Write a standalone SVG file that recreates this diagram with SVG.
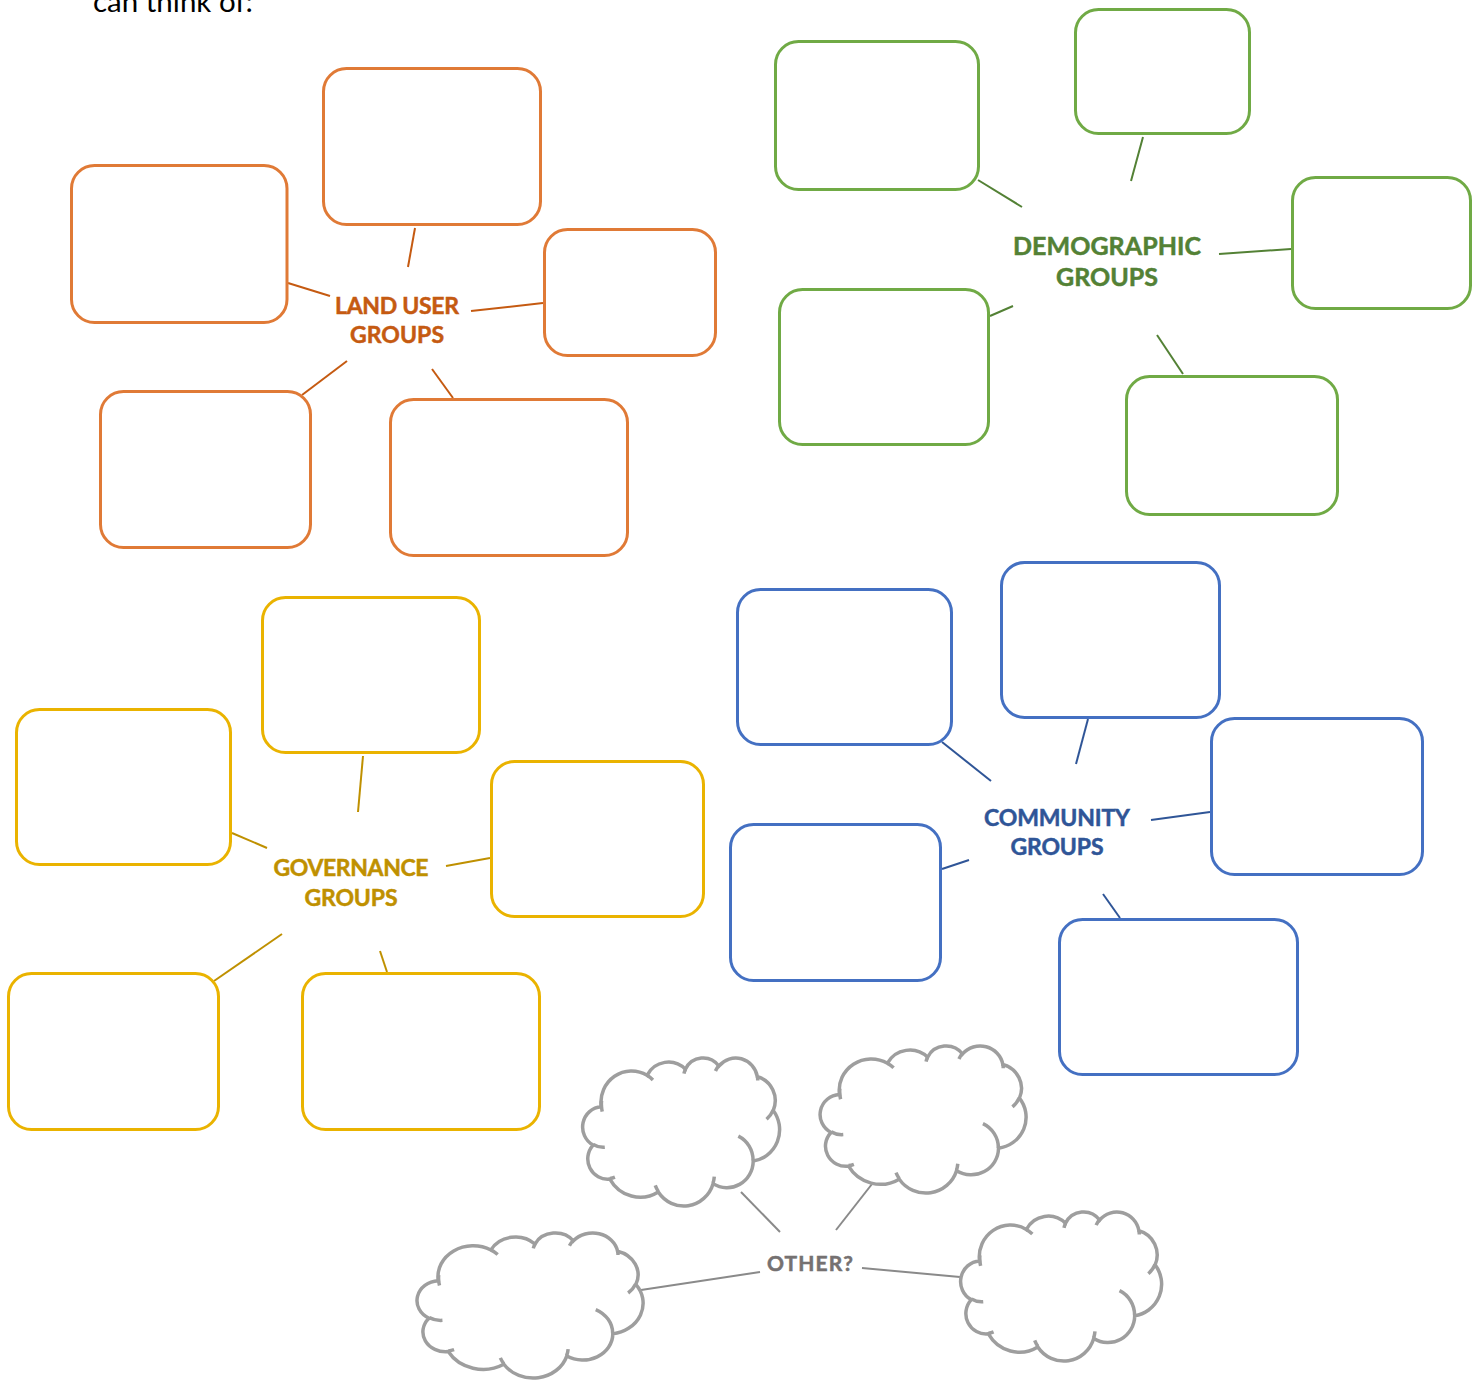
<svg xmlns="http://www.w3.org/2000/svg" xmlns:xlink="http://www.w3.org/1999/xlink" width="1484" height="1380" viewBox="0 0 1484 1380">
  <style>
    .box { fill: #ffffff; stroke-width: 3; }
    .orange { stroke: #E07A36; }
    .green { stroke: #70AA45; }
    .yellow { stroke: #EAB300; }
    .blue { stroke: #4470C2; }
    .lbl { font-family: Lato, "Open Sans", "Liberation Sans", sans-serif; font-weight: 700; font-size: 23px; text-anchor: middle; stroke-width: 0.5px; }
    .t-orange { fill: #C55A11; stroke: #C55A11; }
    .t-green { fill: #538135; stroke: #538135; font-size: 25px; }
    .t-yellow { fill: #BF9000; stroke: #BF9000; }
    .t-blue { fill: #2F5597; stroke: #2F5597; }
    .t-gray { fill: #757171; stroke: #757171; font-size: 21px; }
    .c-orange { stroke: #C55A11; }
    .c-green { stroke: #538135; }
    .c-yellow { stroke: #BF9000; }
    .c-blue { stroke: #2F5597; }
    .c-gray { stroke: #8A8A8A; }
    #connectors line { stroke-width: 2; fill: none; }
    .cloud-outline { fill: #ffffff; stroke: #9E9E9E; stroke-width: 3.5; vector-effect: non-scaling-stroke; }
    .cloud-inner { fill: none; stroke: #9E9E9E; stroke-width: 3.5; vector-effect: non-scaling-stroke; }
  </style>
  <defs>
    <!-- cloud outline on a 43200 x 43200 grid, scaled per instance -->
    <g id="cloud">
      <path class="cloud-outline" d="M3900,14370 A6753,9190 0 0 1 14005.6,5202.7 A5333,7267 0 0 1 22459.9,3435.4 A4365,5945 0 0 1 29837.1,2484 A4857,6595 0 0 1 38322,5579.8 A5333,7273 0 0 1 41822.5,15463.6 A6775,9220 0 0 1 37408.8,30207.1 A5785,7867 0 0 1 28560.3,36817.2 A6752,9215 0 0 1 16485.1,39270 A7720,10543 0 0 1 5809.3,35476.7 A4360,5918 0 0 1 2116.9,25556.6 A4345,5945 0 0 1 3900,14370 Z"/>
      <path class="cloud-inner" d="M4693,26177 A4345,5945 0 0 1 2159.9,25380.1 M6928,34899 A4360,5918 0 0 1 5819.5,35280.5 M16478,39090 A6752,9215 0 0 1 15809.9,37349.7 M28827,34751 A6752,9215 0 0 1 28560.5,36659.4 M34129,22954 A5785,7867 0 0 1 37380.4,30089.6 M41798,15354 A5333,7273 0 0 1 40349,18031.1 M38324,5426 A4857,6595 0 0 1 38400.4,6689.6 M29078,3952 A4857,6595 0 0 1 29820.2,2338.8 M22141,4720 A4365,5945 0 0 1 22500,3330.6 M14000,5192 A6753,9190 0 0 1 15302.6,6544.2 M4127,15789 A6753,9190 0 0 1 3982.4,12675.5"/>
    </g>
  </defs>

  <rect width="1484" height="1380" fill="#ffffff"/>

  <text x="93" y="12" font-family="Lato, 'Open Sans', 'Liberation Sans', sans-serif" font-size="28" textLength="160" lengthAdjust="spacingAndGlyphs" fill="#000000">can think of:</text>

  <!-- connectors -->
  <g id="connectors">
    <line class="c-orange" x1="288" y1="283" x2="330" y2="296"/>
    <line class="c-orange" x1="415" y1="228" x2="408" y2="267"/>
    <line class="c-orange" x1="543" y1="303" x2="471" y2="311"/>
    <line class="c-orange" x1="302" y1="395" x2="347" y2="361"/>
    <line class="c-orange" x1="432" y1="369" x2="453" y2="398"/>

    <line class="c-green" x1="978" y1="180" x2="1022" y2="207"/>
    <line class="c-green" x1="1143" y1="137" x2="1131" y2="181"/>
    <line class="c-green" x1="1291" y1="249" x2="1219" y2="254"/>
    <line class="c-green" x1="990" y1="316" x2="1013" y2="306"/>
    <line class="c-green" x1="1157" y1="335" x2="1183" y2="374"/>

    <line class="c-yellow" x1="363" y1="756" x2="358" y2="812"/>
    <line class="c-yellow" x1="232" y1="833" x2="267" y2="848"/>
    <line class="c-yellow" x1="490" y1="858" x2="446" y2="866"/>
    <line class="c-yellow" x1="214" y1="981" x2="282" y2="934"/>
    <line class="c-yellow" x1="380" y1="951" x2="387" y2="972"/>

    <line class="c-blue" x1="942" y1="742" x2="991" y2="781"/>
    <line class="c-blue" x1="1088" y1="719" x2="1076" y2="764"/>
    <line class="c-blue" x1="1210" y1="812" x2="1151" y2="820"/>
    <line class="c-blue" x1="942" y1="869" x2="969" y2="860"/>
    <line class="c-blue" x1="1103" y1="894" x2="1120" y2="918"/>

    <line class="c-gray" x1="741" y1="1192" x2="780" y2="1232"/>
    <line class="c-gray" x1="872" y1="1184" x2="836" y2="1230"/>
    <line class="c-gray" x1="641" y1="1290" x2="760" y2="1272"/>
    <line class="c-gray" x1="862" y1="1268" x2="960" y2="1277"/>
  </g>

  <!-- land user groups -->
  <g id="land-user">
    <text class="lbl t-orange" x="397" y="314" textLength="124">LAND USER</text>
    <text class="lbl t-orange" x="397" y="343" textLength="94">GROUPS</text>
  </g>
  <g id="land-user-1"><rect class="box orange" x="71.5" y="165.5" width="215.5" height="157" rx="23"/></g>
  <g id="land-user-2"><rect class="box orange" x="323.5" y="68.5" width="217" height="156" rx="23"/></g>
  <g id="land-user-3"><rect class="box orange" x="544.5" y="229.5" width="171" height="126" rx="23"/></g>
  <g id="land-user-4"><rect class="box orange" x="100.5" y="391.5" width="210" height="156" rx="23"/></g>
  <g id="land-user-5"><rect class="box orange" x="390.5" y="399.5" width="237" height="156" rx="23"/></g>

  <!-- demographic groups -->
  <g id="demographic">
    <text class="lbl t-green" x="1107" y="255" textLength="188">DEMOGRAPHIC</text>
    <text class="lbl t-green" x="1107" y="286" textLength="102">GROUPS</text>
  </g>
  <g id="demographic-1"><rect class="box green" x="775.5" y="41.5" width="203" height="148" rx="23"/></g>
  <g id="demographic-2"><rect class="box green" x="1075.5" y="9.5" width="174" height="124" rx="23"/></g>
  <g id="demographic-3"><rect class="box green" x="1292.5" y="177.5" width="178" height="131" rx="23"/></g>
  <g id="demographic-4"><rect class="box green" x="779.5" y="289.5" width="209" height="155" rx="23"/></g>
  <g id="demographic-5"><rect class="box green" x="1126.5" y="376.5" width="211" height="138" rx="23"/></g>

  <!-- governance groups -->
  <g id="governance">
    <text class="lbl t-yellow" x="351" y="876" textLength="155">GOVERNANCE</text>
    <text class="lbl t-yellow" x="351" y="906" textLength="93">GROUPS</text>
  </g>
  <g id="governance-1"><rect class="box yellow" x="262.5" y="597.5" width="217" height="155" rx="23"/></g>
  <g id="governance-2"><rect class="box yellow" x="16.5" y="709.5" width="214" height="155" rx="23"/></g>
  <g id="governance-3"><rect class="box yellow" x="491.5" y="761.5" width="212" height="155" rx="23"/></g>
  <g id="governance-4"><rect class="box yellow" x="8.5" y="973.5" width="210" height="156" rx="23"/></g>
  <g id="governance-5"><rect class="box yellow" x="302.5" y="973.5" width="237" height="156" rx="23"/></g>

  <!-- community groups -->
  <g id="community">
    <text class="lbl t-blue" x="1057" y="826" textLength="146">COMMUNITY</text>
    <text class="lbl t-blue" x="1057" y="855" textLength="93">GROUPS</text>
  </g>
  <g id="community-1"><rect class="box blue" x="737.5" y="589.5" width="214" height="155" rx="23"/></g>
  <g id="community-2"><rect class="box blue" x="1001.5" y="562.5" width="218" height="155" rx="23"/></g>
  <g id="community-3"><rect class="box blue" x="1211.5" y="718.5" width="211" height="156" rx="23"/></g>
  <g id="community-4"><rect class="box blue" x="730.5" y="824.5" width="210" height="156" rx="23"/></g>
  <g id="community-5"><rect class="box blue" x="1059.5" y="919.5" width="238" height="155" rx="23"/></g>

  <!-- other -->
  <g id="other">
    <text class="lbl t-gray" x="810" y="1271" textLength="86">OTHER?</text>
  </g>
  <g id="other-1"><use xlink:href="#cloud" transform="translate(583.5 1057.5) scale(0.004537 0.003426)"/></g>
  <g id="other-2"><use xlink:href="#cloud" transform="translate(821 1045.5) scale(0.004745 0.003403)"/></g>
  <g id="other-3"><use xlink:href="#cloud" transform="translate(418 1232.5) scale(0.005208 0.003356)"/></g>
  <g id="other-4"><use xlink:href="#cloud" transform="translate(961.5 1211.5) scale(0.00463 0.003449)"/></g>
</svg>
